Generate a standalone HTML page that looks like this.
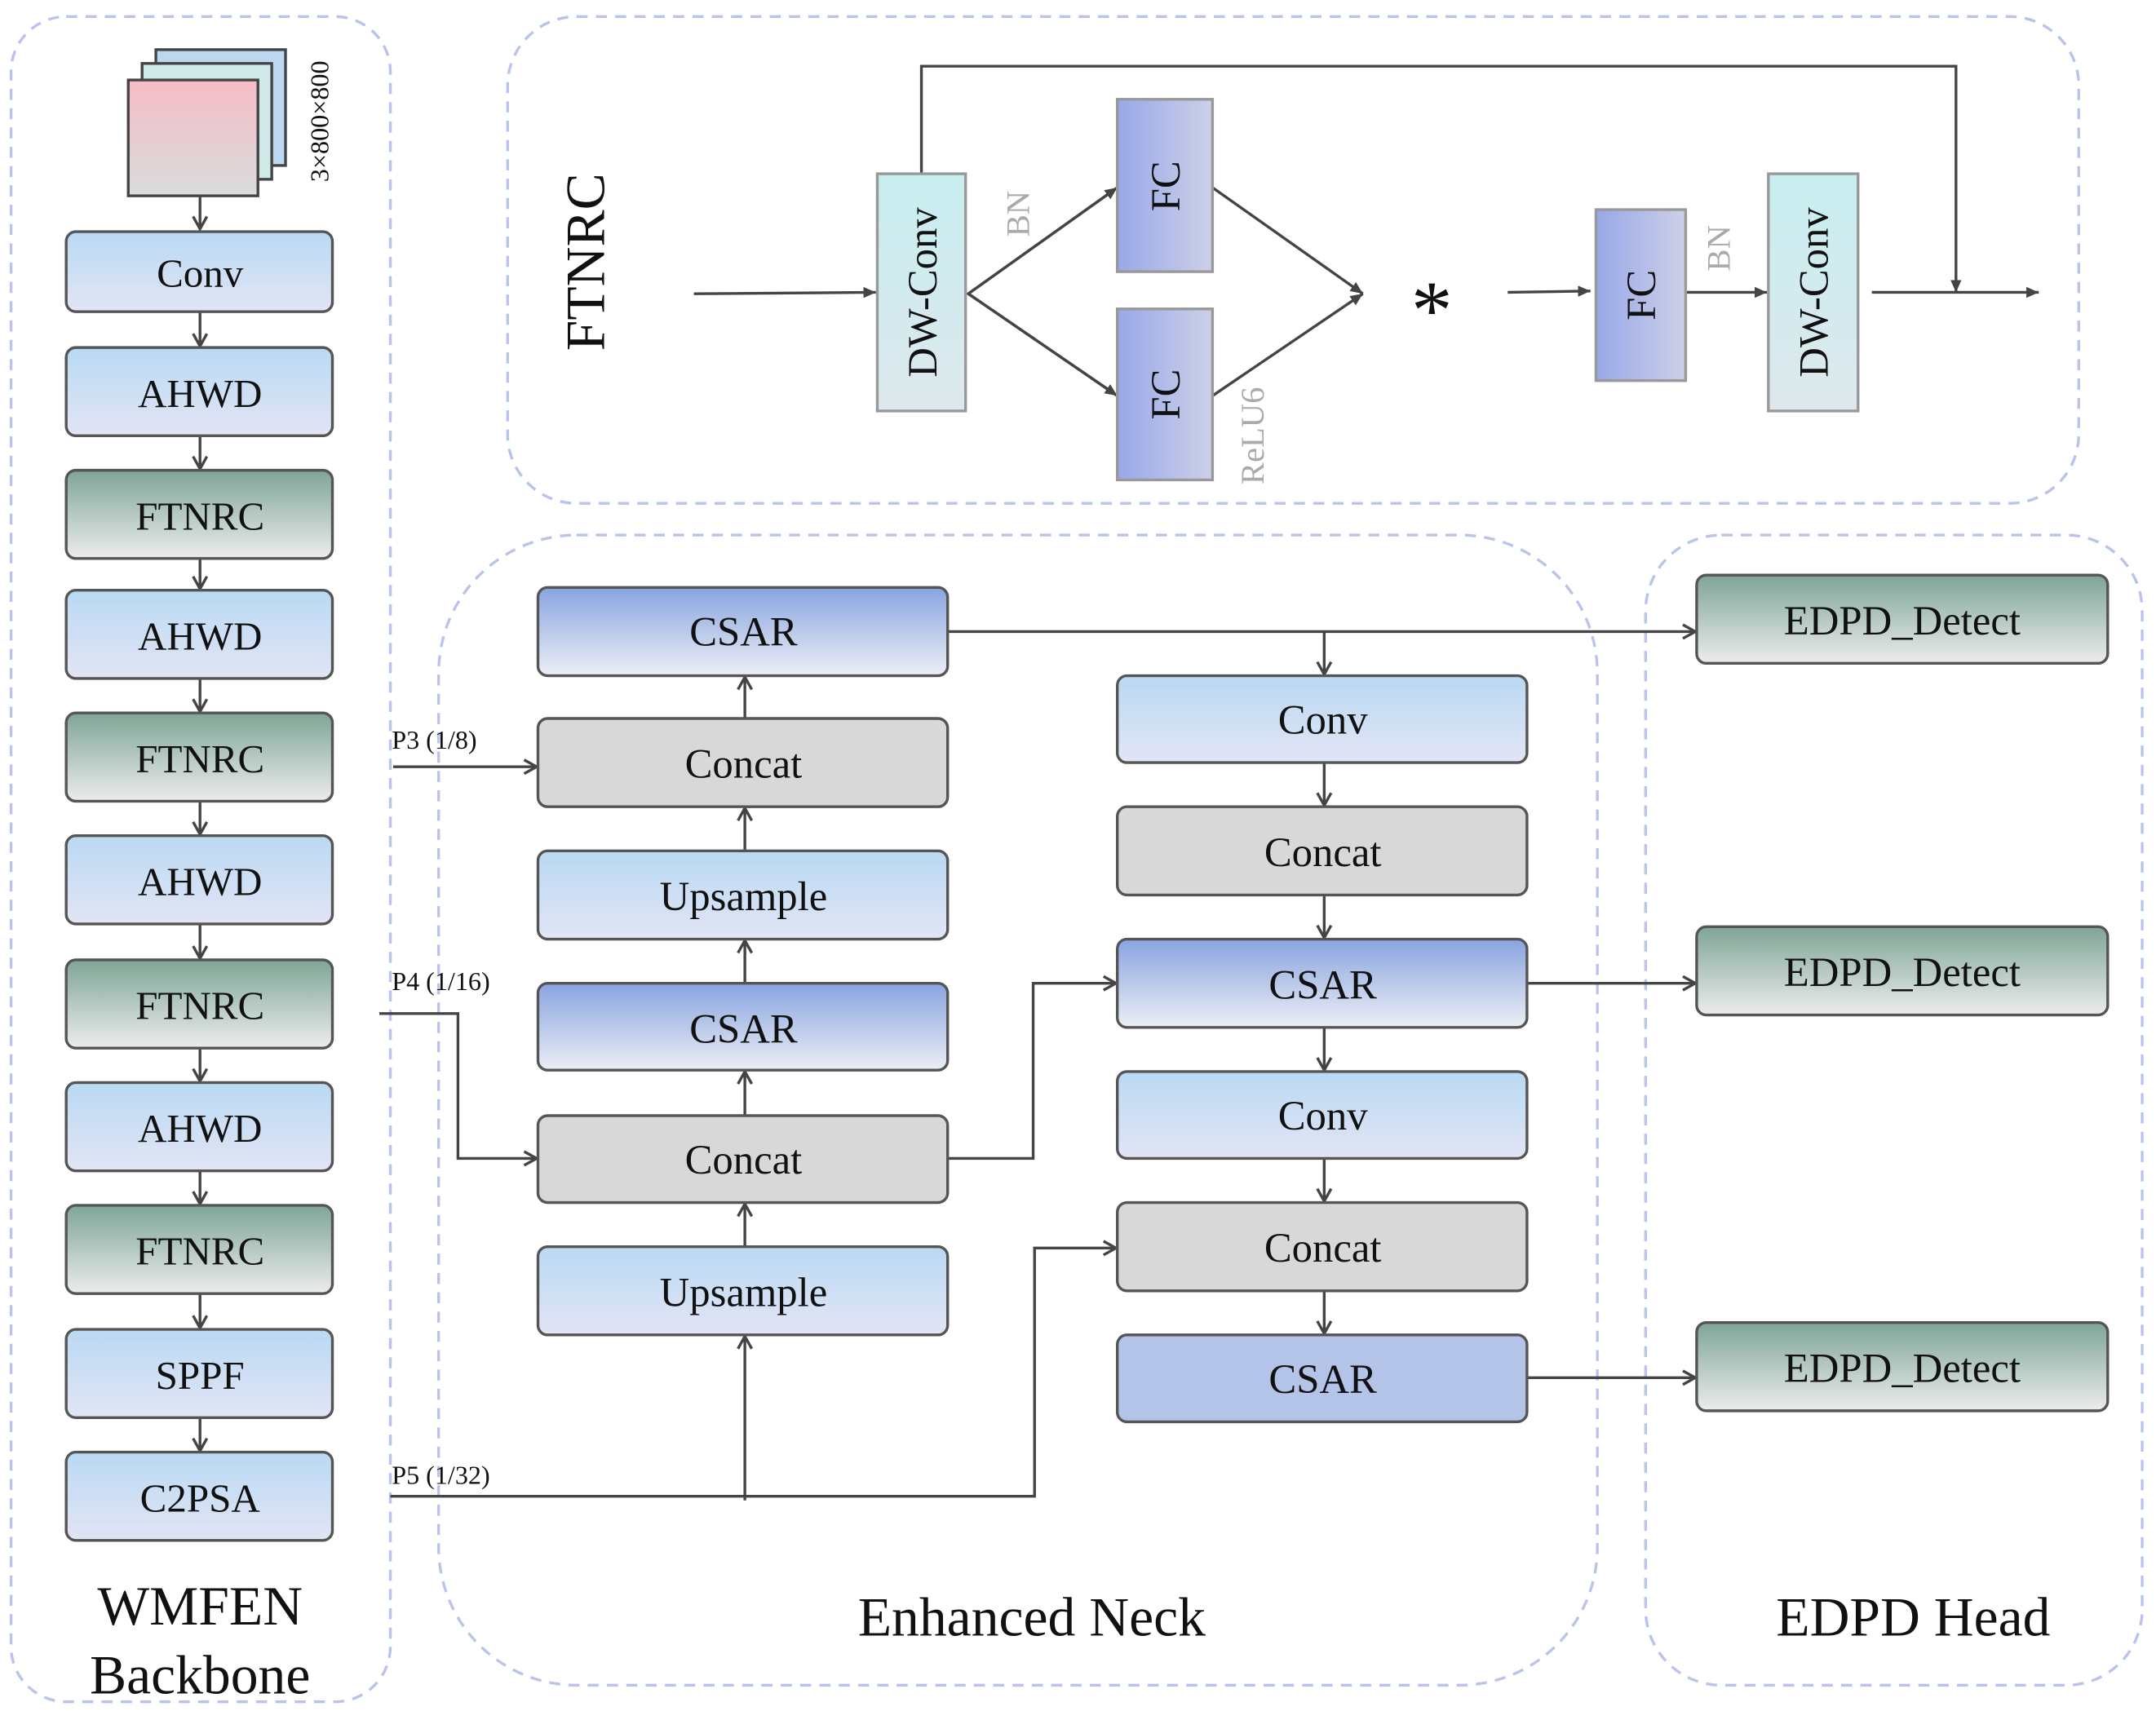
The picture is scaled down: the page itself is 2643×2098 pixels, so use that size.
<!DOCTYPE html>
<html><head><meta charset="utf-8"><style>
html,body{margin:0;padding:0;background:#fff}
svg{display:block}
text{font-family:"Liberation Serif",serif;fill:#111}
</style></head><body>
<svg width="2643" height="2098" viewBox="0 0 1563 1240.7" xmlns="http://www.w3.org/2000/svg">
<defs>
<linearGradient id="lb" x1="0" y1="0" x2="0" y2="1"><stop offset="0" stop-color="#b9d9f3"/><stop offset="1" stop-color="#e2e5f5"/></linearGradient>
<linearGradient id="tl" x1="0" y1="0" x2="0" y2="1"><stop offset="0" stop-color="#7ea596"/><stop offset="1" stop-color="#ececec"/></linearGradient>
<linearGradient id="cs" x1="0" y1="0" x2="0" y2="1"><stop offset="0" stop-color="#88a4e0"/><stop offset="1" stop-color="#eceef4"/></linearGradient>
<linearGradient id="fc" x1="0" y1="0" x2="1" y2="0"><stop offset="0" stop-color="#98a8e8"/><stop offset="1" stop-color="#cdd0e8"/></linearGradient>
<linearGradient id="pk" x1="0" y1="0" x2="0" y2="1"><stop offset="0" stop-color="#f5bcc6"/><stop offset="1" stop-color="#d9dcdc"/></linearGradient>
<linearGradient id="cy" x1="0" y1="0" x2="0" y2="1"><stop offset="0" stop-color="#c8eef0"/><stop offset="1" stop-color="#dde8ec"/></linearGradient>
<marker id="a" markerWidth="12" markerHeight="12" refX="10" refY="6" orient="auto" markerUnits="userSpaceOnUse"><polyline points="1,1 10,6 1,11" fill="none" stroke="#444" stroke-width="2"/></marker>
<marker id="s" markerWidth="10" markerHeight="10" refX="9" refY="5" orient="auto" markerUnits="userSpaceOnUse"><polygon points="0,1 9,5 0,9" fill="#444"/></marker>
</defs>
<g fill="none" stroke="#b8c4ea" stroke-width="2" stroke-dasharray="8,6">
<rect x="8" y="12" width="275" height="1222" rx="40"/>
<rect x="368" y="12" width="1139" height="353" rx="50"/>
<rect x="318" y="388" width="840" height="834" rx="100"/>
<rect x="1193" y="388" width="360" height="834" rx="55"/>
</g>
<!-- input stack -->
<rect x="113" y="36" width="94" height="84" fill="#bcd8f0" stroke="#444" stroke-width="2"/>
<rect x="103" y="46" width="94" height="84" fill="#cfeae6" stroke="#444" stroke-width="2"/>
<rect x="93" y="58" width="94" height="84" fill="url(#pk)" stroke="#444" stroke-width="2"/>
<text transform="translate(238,88) rotate(-90)" font-size="19" text-anchor="middle">3×800×800</text>
<g stroke="#444" stroke-width="2" fill="none" marker-end="url(#a)">
<line x1="145" y1="142" x2="145" y2="166"/>
<line x1="145" y1="226" x2="145" y2="251"/>
<line x1="145" y1="316" x2="145" y2="340"/>
<line x1="145" y1="405" x2="145" y2="427"/>
<line x1="145" y1="492" x2="145" y2="516"/>
<line x1="145" y1="581" x2="145" y2="605"/>
<line x1="145" y1="670" x2="145" y2="695"/>
<line x1="145" y1="760" x2="145" y2="784"/>
<line x1="145" y1="849" x2="145" y2="873"/>
<line x1="145" y1="938" x2="145" y2="963"/>
<line x1="145" y1="1028" x2="145" y2="1052"/>
</g>
<g stroke="#555" stroke-width="2">
<rect x="48" y="168" width="193" height="58" rx="7" fill="url(#lb)"/>
<rect x="48" y="252" width="193" height="64" rx="7" fill="url(#lb)"/>
<rect x="48" y="341" width="193" height="64" rx="7" fill="url(#tl)"/>
<rect x="48" y="428" width="193" height="64" rx="7" fill="url(#lb)"/>
<rect x="48" y="517" width="193" height="64" rx="7" fill="url(#tl)"/>
<rect x="48" y="606" width="193" height="64" rx="7" fill="url(#lb)"/>
<rect x="48" y="696" width="193" height="64" rx="7" fill="url(#tl)"/>
<rect x="48" y="785" width="193" height="64" rx="7" fill="url(#lb)"/>
<rect x="48" y="874" width="193" height="64" rx="7" fill="url(#tl)"/>
<rect x="48" y="964" width="193" height="64" rx="7" fill="url(#lb)"/>
<rect x="48" y="1053" width="193" height="64" rx="7" fill="url(#lb)"/>
</g>
<g font-size="29" text-anchor="middle">
<text x="145" y="208">Conv</text>
<text x="145" y="295">AHWD</text>
<text x="145" y="384">FTNRC</text>
<text x="145" y="471">AHWD</text>
<text x="145" y="560">FTNRC</text>
<text x="145" y="649">AHWD</text>
<text x="145" y="739">FTNRC</text>
<text x="145" y="828">AHWD</text>
<text x="145" y="917">FTNRC</text>
<text x="145" y="1007">SPPF</text>
<text x="145" y="1096">C2PSA</text>
</g>
<g font-size="40" text-anchor="middle" fill="#333">
<text x="145" y="1178">WMFEN</text>
<text x="145" y="1228">Backbone</text>
<text x="748" y="1186">Enhanced Neck</text>
<text x="1387" y="1186">EDPD Head</text>
</g>
<!-- FTNRC detail -->
<text transform="translate(438,190) rotate(-90)" font-size="40" text-anchor="middle">FTNRC</text>
<g stroke="#444" stroke-width="2" fill="none">
<line x1="503" y1="213" x2="635" y2="212" marker-end="url(#s)"/>
<polyline points="668,126 668,48 1418,48 1418,212" marker-end="url(#s)"/>
<polyline points="810,136 702,213 810,287" />
<line x1="702" y1="213" x2="810" y2="136" marker-end="url(#s)"/>
<line x1="702" y1="213" x2="810" y2="287" marker-end="url(#s)"/>
<line x1="879" y1="136" x2="988" y2="213" marker-end="url(#s)"/>
<line x1="879" y1="287" x2="988" y2="213" marker-end="url(#s)"/>
<line x1="1093" y1="212" x2="1153" y2="211" marker-end="url(#s)"/>
<line x1="1222" y1="212" x2="1281" y2="212" marker-end="url(#s)"/>
<line x1="1357" y1="212" x2="1478" y2="212" marker-end="url(#s)"/>
</g>
<g stroke="#999" stroke-width="2">
<rect x="636" y="126" width="64" height="172" fill="url(#cy)"/>
<rect x="1282" y="126" width="65" height="172" fill="url(#cy)"/>
<rect x="810" y="72" width="69" height="125" fill="url(#fc)"/>
<rect x="810" y="224" width="69" height="124" fill="url(#fc)"/>
<rect x="1157" y="152" width="65" height="124" fill="url(#fc)"/>
</g>
<g font-size="30" text-anchor="middle">
<text transform="translate(679,212) rotate(-90)">DW-Conv</text>
<text transform="translate(1325,212) rotate(-90)">DW-Conv</text>
<text transform="translate(855,135) rotate(-90)">FC</text>
<text transform="translate(855,286) rotate(-90)">FC</text>
<text transform="translate(1200,214) rotate(-90)">FC</text>
</g>
<g font-size="24" text-anchor="middle" style="fill:#aaa">
<text transform="translate(746,155) rotate(-90)" style="fill:#aaa">BN</text>
<text transform="translate(1254,180) rotate(-90)" style="fill:#aaa">BN</text>
<text transform="translate(916,316) rotate(-90)" style="fill:#aaa">ReLU6</text>
</g>
<text x="1038" y="245" font-size="60" text-anchor="middle">*</text>
<!-- neck connectors -->
<g stroke="#444" stroke-width="2" fill="none" marker-end="url(#a)">
<line x1="540" y1="521" x2="540" y2="491"/>
<line x1="540" y1="617" x2="540" y2="586"/>
<line x1="540" y1="713" x2="540" y2="682"/>
<line x1="540" y1="809" x2="540" y2="777"/>
<line x1="540" y1="904" x2="540" y2="873"/>
<line x1="540" y1="1088" x2="540" y2="969"/>
<line x1="285" y1="556" x2="389" y2="556"/>
<polyline points="275,735 332,735 332,840 389,840"/>
<polyline points="283,1085 750,1085 750,905 809,905"/>
<polyline points="687,840 749,840 749,713 809,713"/>
<line x1="687" y1="458" x2="1229" y2="458"/>
<line x1="960" y1="458" x2="960" y2="489"/>
<line x1="960" y1="553" x2="960" y2="584"/>
<line x1="960" y1="649" x2="960" y2="680"/>
<line x1="960" y1="745" x2="960" y2="776"/>
<line x1="960" y1="840" x2="960" y2="871"/>
<line x1="960" y1="936" x2="960" y2="967"/>
<line x1="1107" y1="713" x2="1229" y2="713"/>
<line x1="1107" y1="999" x2="1229" y2="999"/>
</g>
<g font-size="19">
<text x="284" y="543">P3 (1/8)</text>
<text x="284" y="718">P4 (1/16)</text>
<text x="284" y="1076">P5 (1/32)</text>
</g>
<g stroke="#555" stroke-width="2">
<rect x="390" y="426" width="297" height="64" rx="7" fill="url(#cs)"/>
<rect x="390" y="521" width="297" height="64" rx="7" fill="#d8d8d8"/>
<rect x="390" y="617" width="297" height="64" rx="7" fill="url(#lb)"/>
<rect x="390" y="713" width="297" height="63" rx="7" fill="url(#cs)"/>
<rect x="390" y="809" width="297" height="63" rx="7" fill="#d8d8d8"/>
<rect x="390" y="904" width="297" height="64" rx="7" fill="url(#lb)"/>
<rect x="810" y="490" width="297" height="63" rx="7" fill="url(#lb)"/>
<rect x="810" y="585" width="297" height="64" rx="7" fill="#d8d8d8"/>
<rect x="810" y="681" width="297" height="64" rx="7" fill="url(#cs)"/>
<rect x="810" y="777" width="297" height="63" rx="7" fill="url(#lb)"/>
<rect x="810" y="872" width="297" height="64" rx="7" fill="#d8d8d8"/>
<rect x="810" y="968" width="297" height="63" rx="7" fill="#b4c4e8"/>
<rect x="1230" y="417" width="298" height="64" rx="7" fill="url(#tl)"/>
<rect x="1230" y="672" width="298" height="64" rx="7" fill="url(#tl)"/>
<rect x="1230" y="959" width="298" height="64" rx="7" fill="url(#tl)"/>
</g>
<g font-size="30" text-anchor="middle">
<text x="539" y="468">CSAR</text>
<text x="539" y="564">Concat</text>
<text x="539" y="660">Upsample</text>
<text x="539" y="756">CSAR</text>
<text x="539" y="851">Concat</text>
<text x="539" y="947">Upsample</text>
<text x="959" y="532">Conv</text>
<text x="959" y="628">Concat</text>
<text x="959" y="724">CSAR</text>
<text x="959" y="819">Conv</text>
<text x="959" y="915">Concat</text>
<text x="959" y="1010">CSAR</text>
<text x="1379" y="460">EDPD_Detect</text>
<text x="1379" y="715">EDPD_Detect</text>
<text x="1379" y="1002">EDPD_Detect</text>
</g>
</svg>
</body></html>
